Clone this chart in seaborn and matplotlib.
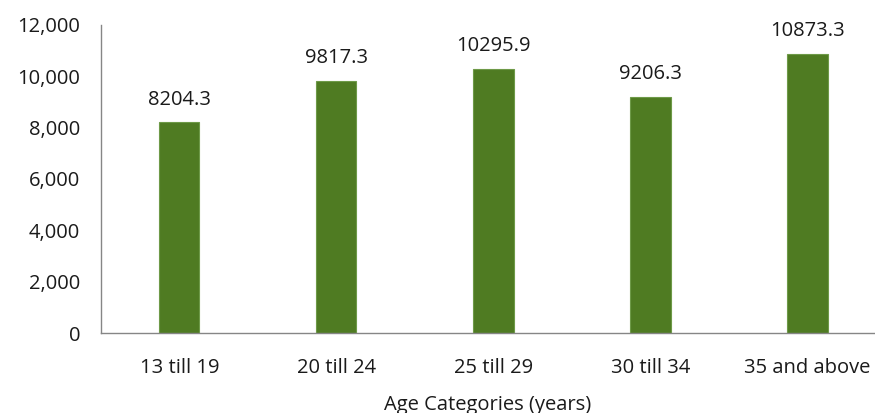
import matplotlib
matplotlib.use("Agg")
import matplotlib.pyplot as plt
import seaborn as sns
import pandas as pd
from matplotlib.ticker import FuncFormatter, FixedLocator

# Values
categories = ['13 till 19', '20 till 24', '25 till 29', '30 till 34', '35 and above']
values = [8204.3, 9817.3, 10295.9, 9206.3, 10873.3]

df = pd.DataFrame({'age': categories, 'value': values})

sns.set_style('white')
plt.rcParams['font.family'] = ['Open Sans', 'DejaVu Sans']

fig = plt.figure(figsize=(8.75, 4.13), dpi=100)
ax = fig.add_axes([0.1154, 0.1937, 0.8846, 0.7458])

sns.barplot(data=df, x='age', y='value', color='#4F7B22', width=0.255,
            edgecolor='#6E9A48', linewidth=0.8, saturation=1, ax=ax)

fs = 14.5
for i, v in enumerate(values):
    ax.text(i, v + 500, f'{v}', ha='center', va='bottom', fontsize=fs, color='#1a1a1a')

ax.set_ylim(0, 12000)
ax.set_xlim(-0.5, 4.43)
ax.yaxis.set_major_formatter(FuncFormatter(lambda y, _: f'{int(y):,}'))
ax.set_yticks(range(0, 12001, 2000))

# category boundary ticks
ax.xaxis.set_minor_locator(FixedLocator([-0.5, 0.5, 1.5, 2.5, 3.5]))
ax.tick_params(axis='x', which='major', length=0, pad=18, labelsize=fs, labelcolor='#1a1a1a')
ax.tick_params(axis='x', which='minor', length=6, width=1, color='#868686', direction='out')
ax.tick_params(axis='y', length=6, width=1, color='#868686', direction='out', pad=9,
               labelsize=fs, labelcolor='#1a1a1a')

for s in ['top', 'right']:
    ax.spines[s].set_visible(False)
for s in ['left', 'bottom']:
    ax.spines[s].set_color('#868686')
    ax.spines[s].set_linewidth(1)

ax.set_xlabel('Age Categories (years)', fontsize=fs, color='#1a1a1a', labelpad=12)
ax.set_ylabel('')
ax.grid(False)

fig.savefig('out.png', dpi=100)
